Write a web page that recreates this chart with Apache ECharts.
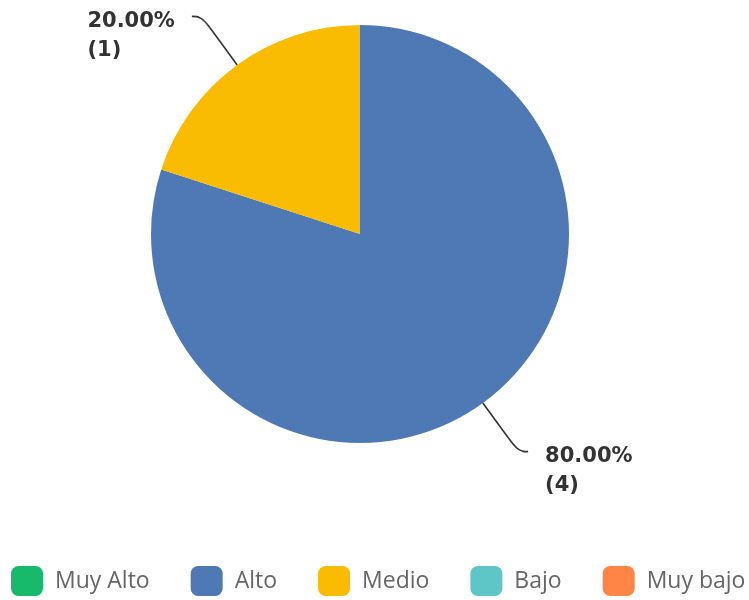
<!DOCTYPE html>
<html>
<head>
<meta charset="utf-8">
<script src="https://cdn.jsdelivr.net/npm/echarts@6/dist/echarts.min.js"></script>
<style>
html,body{margin:0;padding:0;background:#fff;}
#main{width:749px;height:600px;}
</style>
</head>
<body>
<div id="main"></div>
<script>
// Data
const categories = ['Muy Alto', 'Alto', 'Medio', 'Bajo', 'Muy bajo'];
const counts = [0, 4, 1, 0, 0];
const colors = ['#17B96B', '#4E79B5', '#FABC02', '#5EC6C6', '#FF8547'];

const total = counts.reduce((a, b) => a + b, 0);
const data = categories.map((name, i) => {
  const show = counts[i] > 0;
  return {
    name: name,
    value: counts[i],
    itemStyle: { color: colors[i] },
    label: { show: show },
    labelLine: { show: show }
  };
});

const chart = echarts.init(document.getElementById('main'), null, { renderer: 'canvas' });
chart.setOption({
  animation: false,
  backgroundColor: '#ffffff',
  color: colors,
  legend: {
    data: categories,
    left: 11,
    top: 566,
    padding: 0,
    icon: 'roundRect',
    itemWidth: 32,
    itemHeight: 30,
    itemGap: 41,
    textStyle: {
      fontFamily: 'Open Sans',
      fontSize: 23,
      color: '#666666',
      padding: [0, 0, 0, 7]
    },
    selectedMode: false
  },
  series: [{
    type: 'pie',
    center: [360, 234],
    radius: 209,
    startAngle: 90,
    clockwise: true,
    avoidLabelOverlap: false,
    stillShowZeroSum: false,
    data: data,
    label: {
      position: 'outside',
      formatter: function (p) {
        return '{e| }\n{v|' + (p.value / total * 100).toFixed(2) + '%}\n{v|(' + p.value + ')}';
      },
      fontFamily: 'DejaVu Sans',
      fontSize: 21,
      fontWeight: 'bold',
      color: '#333333',
      lineHeight: 29,
      rich: {
        e: { lineHeight: 39, fontSize: 21, align: 'left' },
        v: { lineHeight: 29, fontSize: 21, fontWeight: 'bold', fontFamily: 'DejaVu Sans', color: '#333333', align: 'left' }
      },
      distanceToLabelLine: 17
    },
    labelLine: {
      show: true,
      length: 60,
      length2: 10,
      smooth: 0.5,
      lineStyle: { color: '#333333', width: 1.6 }
    },
    emphasis: { disabled: true }
  }]
});
</script>
</body>
</html>
